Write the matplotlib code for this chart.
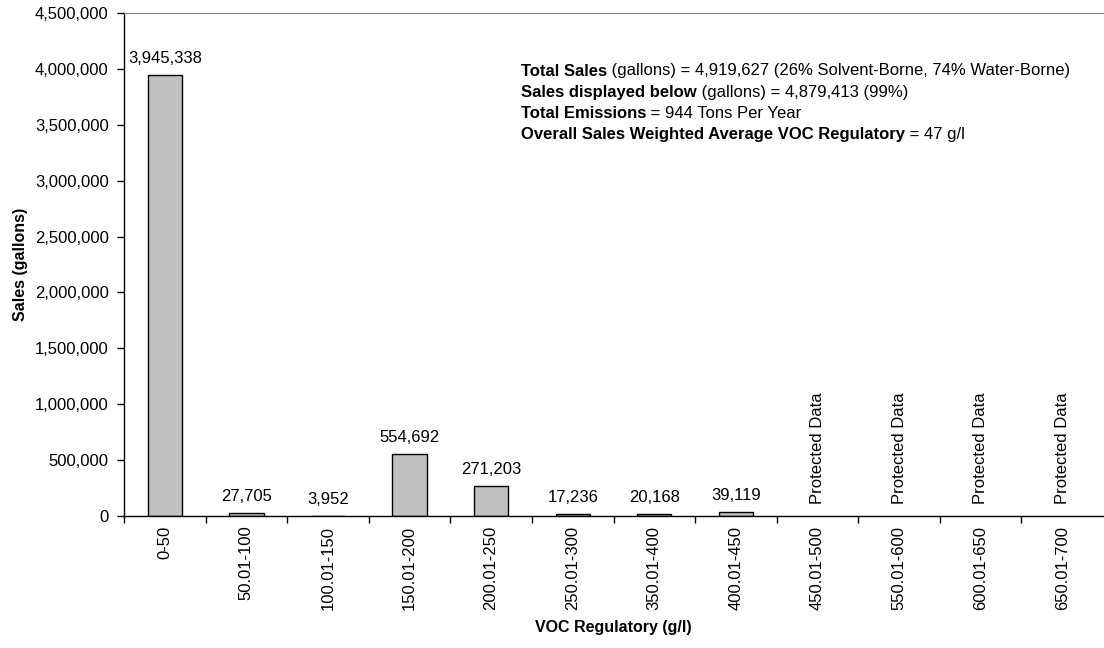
import matplotlib
matplotlib.use("Agg")
import matplotlib.pyplot as plt
import matplotlib.ticker as mticker

plt.rcParams["font.family"] = ["Liberation Sans", "DejaVu Sans"]

categories = ["0-50", "50.01-100", "100.01-150", "150.01-200", "200.01-250",
              "250.01-300", "350.01-400", "400.01-450", "450.01-500",
              "550.01-600", "600.01-650", "650.01-700"]
sales = [3945338, 27705, 3952, 554692, 271203, 17236, 20168, 39119,
         None, None, None, None]

info_lines = [
    ("Total Sales", " (gallons) = 4,919,627 (26% Solvent-Borne, 74% Water-Borne)"),
    ("Sales displayed below", " (gallons) = 4,879,413 (99%)"),
    ("Total Emissions", " = 944 Tons Per Year"),
    ("Overall Sales Weighted Average VOC Regulatory", " = 47 g/l"),
]

FS = 12

fig = plt.figure(figsize=(11.04, 6.48), dpi=100)
ax = fig.add_axes([124 / 1104, 1 - 516 / 648, (1103 - 124) / 1104, (516 - 13) / 648])

x = list(range(len(categories)))
for i, v in enumerate(sales):
    if v is None:
        ax.text(i, 110000, "Protected Data", rotation=90, ha="center", va="bottom", fontsize=FS)
    else:
        ax.bar(i, v, width=0.42, color="#c0c0c0", edgecolor="black", linewidth=1)
        ax.text(i, v + 80000, f"{v:,}", ha="center", va="bottom", fontsize=FS)

ax.set_xlim(-0.5, len(categories) - 0.5)
ax.set_ylim(0, 4500000)
ax.yaxis.set_major_locator(mticker.MultipleLocator(500000))
ax.yaxis.set_major_formatter(mticker.FuncFormatter(lambda v, _: f"{int(v):,}"))

ax.set_xticks(x)
ax.set_xticklabels(categories, rotation=90, fontsize=FS)
ax.set_xticks([i + 0.5 for i in x[:-1]] + [-0.5], minor=True)
ax.tick_params(axis="x", which="major", length=0, pad=7)
ax.tick_params(axis="x", which="minor", length=5, width=1, direction="out")
ax.tick_params(axis="y", length=5, width=1, direction="out", labelsize=FS, pad=6)

ax.spines["right"].set_visible(False)
ax.spines["top"].set_color("#808080")
ax.spines["left"].set_linewidth(1)
ax.spines["bottom"].set_linewidth(1)

ax.set_ylabel("Sales (gallons)", fontsize=11.5, fontweight="bold", labelpad=5)
ax.set_xlabel("VOC Regulatory (g/l)", fontsize=11.5, fontweight="bold", labelpad=7)

y0 = 71
for j, (b, rest) in enumerate(info_lines):
    yy = 1 - (y0 + 21 * j) / 648
    t = fig.text(521 / 1104, yy, b, fontsize=FS, fontweight="bold", va="center")
    fig.canvas.draw()
    bb = t.get_window_extent()
    fig.text(bb.x1 / 1104, yy, rest, fontsize=FS, va="center")

fig.savefig("out.png", dpi=100)
